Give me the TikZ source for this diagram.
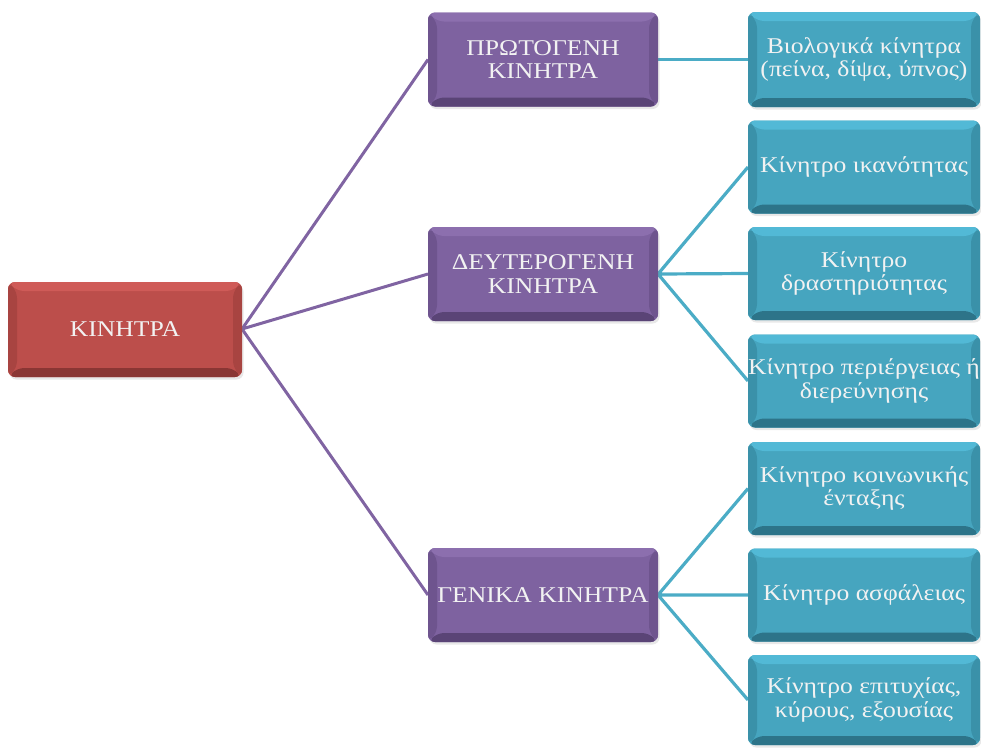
\documentclass[tikz,border=0pt]{standalone}
\usepackage{fontspec}
\setmainfont[FakeStretch=1.14]{Liberation Serif}
\usetikzlibrary{shadows}

% Office-style palette
\definecolor{redbase}{HTML}{BC4E4B}
\definecolor{redtop}{HTML}{CF5B58}
\definecolor{redside}{HTML}{A84441}
\definecolor{redbot}{HTML}{8A3634}
\definecolor{purbase}{HTML}{7E62A0}
\definecolor{purtop}{HTML}{8C6FAE}
\definecolor{purside}{HTML}{6E548E}
\definecolor{purbot}{HTML}{5A4476}
\definecolor{tealbase}{HTML}{46A5BF}
\definecolor{tealtop}{HTML}{52B9D6}
\definecolor{tealside}{HTML}{3A91A9}
\definecolor{tealbot}{HTML}{2D7489}
\definecolor{boxtext}{HTML}{F2F2F2}
\definecolor{purline}{HTML}{8064A2}
\definecolor{tealline}{HTML}{4BACC6}

\tikzset{
  bevel/.style n args={4}{
    fill=#1, rounded corners=7pt,
    drop shadow={opacity=0.18, shadow xshift=1.5pt, shadow yshift=-2.5pt},
    path picture={
      \def\ppb{path picture bounding box}
      \fill[#2] (\ppb.north west) -- (\ppb.north east)
        -- ([xshift=-9pt,yshift=-9pt]\ppb.north east)
        -- ([xshift=9pt,yshift=-9pt]\ppb.north west) -- cycle;
      \fill[#4] (\ppb.south west) -- (\ppb.south east)
        -- ([xshift=-9pt,yshift=9pt]\ppb.south east)
        -- ([xshift=9pt,yshift=9pt]\ppb.south west) -- cycle;
      \fill[#3] (\ppb.north west) -- ([xshift=9pt,yshift=-9pt]\ppb.north west)
        -- ([xshift=9pt,yshift=9pt]\ppb.south west) -- (\ppb.south west) -- cycle;
      \fill[#3] (\ppb.north east) -- ([xshift=-9pt,yshift=-9pt]\ppb.north east)
        -- ([xshift=-9pt,yshift=9pt]\ppb.south east) -- (\ppb.south east) -- cycle;
    }
  },
  boxbase/.style={text=boxtext, align=center, inner sep=0pt,
    font=\fontsize{22.5}{23.5}\selectfont},
  rootbox/.style={boxbase, bevel={redbase}{redtop}{redside}{redbot},
    minimum width=234pt, minimum height=95pt},
  midbox/.style={boxbase, bevel={purbase}{purtop}{purside}{purbot},
    minimum width=230pt, minimum height=94pt},
  leafbox/.style={boxbase, bevel={tealbase}{tealtop}{tealside}{tealbot},
    minimum width=232pt, minimum height=93pt},
  purlink/.style={draw=purline, line width=3pt},
  teallink/.style={draw=tealline, line width=3.2pt},
}

\begin{document}
\begin{tikzpicture}[x=1pt, y=-1pt]
  \useasboundingbox (0,0) rectangle (981,747);

  % connectors first so the boxes sit on top of them
  \coordinate (rootR) at (242,329);
  \coordinate (p1L) at (428,59.5);
  \coordinate (p2L) at (428,274);
  \coordinate (p3L) at (428,595);
  \coordinate (p1R) at (658,59.5);
  \coordinate (p2R) at (658,274);
  \coordinate (p3R) at (658,595);
  \coordinate (r1L) at (748,59.5);
  \coordinate (r2L) at (748,167);
  \coordinate (r3L) at (748,273.5);
  \coordinate (r4L) at (748,381);
  \coordinate (r5L) at (748,488.5);
  \coordinate (r6L) at (748,595);
  \coordinate (r7L) at (748,700);

  \path[purlink] (rootR) -- (p1L) (rootR) -- (p2L) (rootR) -- (p3L);
  \path[teallink] (p1R) -- (r1L);
  \path[teallink] (p2R) -- (r2L) (p2R) -- (r3L) (p2R) -- (r4L);
  \path[teallink] (p3R) -- (r5L) (p3R) -- (r6L) (p3R) -- (r7L);

  % root
  \node[rootbox] (root) at (125,329.5) {ΚΙΝΗΤΡΑ};

  % second level
  \node[midbox] (p1) at (543,59.5) {ΠΡΩΤΟΓΕΝΗ\\ΚΙΝΗΤΡΑ};
  \node[midbox] (p2) at (543,274) {ΔΕΥΤΕΡΟΓΕΝΗ\\ΚΙΝΗΤΡΑ};
  \node[midbox] (p3) at (543,595) {ΓΕΝΙΚΑ ΚΙΝΗΤΡΑ};

  % leaves
  \node[leafbox, minimum height=95pt] (r1) at (864,59.5) {Βιολογικά κίνητρα\\(πείνα, δίψα, ύπνος)};
  \node[leafbox] (r2) at (864,167) {Κίνητρο ικανότητας};
  \node[leafbox] (r3) at (864,273.5) {Κίνητρο\\δραστηριότητας};
  \node[leafbox] (r4) at (864,381) {Κίνητρο περιέργειας ή\\διερεύνησης};
  \node[leafbox] (r5) at (864,488.5) {Κίνητρο κοινωνικής\\ένταξης};
  \node[leafbox] (r6) at (864,595) {Κίνητρο ασφάλειας};
  \node[leafbox, minimum height=90pt] (r7) at (864,700) {Κίνητρο επιτυχίας,\\κύρους, εξουσίας};
\end{tikzpicture}
\end{document}
